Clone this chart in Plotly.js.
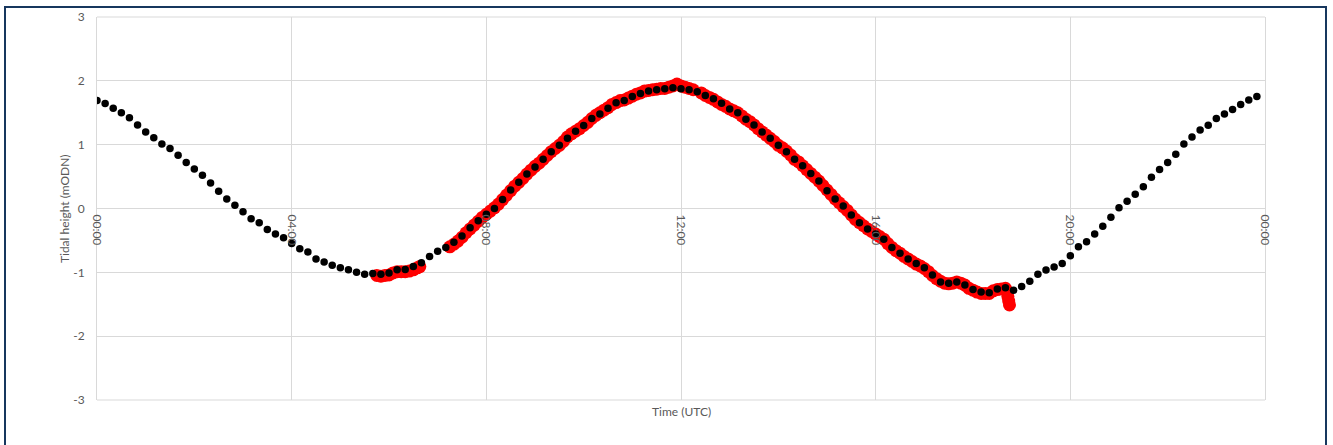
<!DOCTYPE html>
<html>
<head>
<meta charset="utf-8">
<script src="https://cdn.plot.ly/plotly-3.0.1.min.js"></script>
<style>
  html, body { margin: 0; padding: 0; background: #ffffff; overflow: hidden; }
  #chart { width: 1333px; height: 445px; position: absolute; left: 0; top: 0; }
  #frame { position: absolute; left: 4px; top: 6px; width: 1323px; height: 520px;
           box-sizing: border-box; border: 2px solid #17375e; pointer-events: none; }
</style>
</head>
<body>
<div id="chart"></div>
<div id="frame"></div>
<script>
// Predicted tide (black), one value every 10 minutes from 00:00 to 23:50
const predictedStart = "00:00";
const predictedStepMinutes = 10;
const predictedHeight = [
  1.69, 1.645, 1.57, 1.50, 1.42, 1.31,
  1.20, 1.11, 1.01, 0.94, 0.835, 0.72,
  0.62, 0.52, 0.40, 0.27, 0.15, 0.05,
  -0.05, -0.16, -0.225, -0.33, -0.40, -0.46,
  -0.55, -0.63, -0.68, -0.79, -0.84, -0.89,
  -0.93, -0.96, -1.00, -1.03, -1.02, -1.03,
  -1.01, -0.96, -0.955, -0.91, -0.85, -0.75,
  -0.67, -0.61, -0.53, -0.43, -0.30, -0.19,
  -0.09, 0.00, 0.14, 0.29, 0.41, 0.54,
  0.65, 0.77, 0.89, 0.99, 1.10, 1.21,
  1.30, 1.41, 1.48, 1.57, 1.655, 1.69,
  1.755, 1.80, 1.84, 1.86, 1.875, 1.89,
  1.875, 1.86, 1.83, 1.77, 1.72, 1.65,
  1.56, 1.50, 1.40, 1.31, 1.20, 1.10,
  0.99, 0.89, 0.77, 0.67, 0.55, 0.43,
  0.28, 0.15, 0.04, -0.10, -0.225, -0.32,
  -0.40, -0.48, -0.61, -0.70, -0.79, -0.86,
  -0.93, -1.04, -1.15, -1.17, -1.15, -1.20,
  -1.27, -1.31, -1.32, -1.26, -1.24, -1.28,
  -1.22, -1.14, -1.03, -0.965, -0.915, -0.86,
  -0.74, -0.60, -0.52, -0.40, -0.28, -0.136,
  0.01, 0.115, 0.225, 0.34, 0.49, 0.61,
  0.72, 0.85, 1.01, 1.12, 1.23, 1.305,
  1.41, 1.48, 1.55, 1.63, 1.70, 1.755
];

// Observed tide (red)
const observedTime = [
  "05:45","05:50","05:55","06:00","06:05","06:10","06:15","06:20","06:25","06:30","06:35","06:38",
  "07:15","07:20","07:25","07:30","07:35","07:40","07:45","07:50","07:55",
  "08:00","08:05","08:10","08:15","08:20","08:25","08:30","08:35","08:40","08:45","08:50","08:55",
  "09:00","09:05","09:10","09:15","09:20","09:25","09:30","09:35","09:40","09:45","09:50","09:55",
  "10:00","10:05","10:10","10:15","10:20","10:25","10:30","10:35","10:40","10:45","10:50","10:55",
  "11:00","11:05","11:10","11:15","11:20","11:25","11:30","11:35","11:40","11:45","11:50","11:55",
  "12:00","12:05","12:10","12:15",
  "12:25","12:30","12:35","12:40","12:45","12:50","12:55",
  "13:00","13:05","13:10","13:15","13:20","13:25","13:30","13:35","13:40","13:45","13:50","13:55",
  "14:00","14:05","14:10","14:15","14:20","14:25","14:30","14:35","14:40","14:45","14:50","14:55",
  "15:00","15:05","15:10","15:15","15:20","15:25","15:30","15:35","15:40","15:45","15:50","15:55",
  "16:00","16:05","16:10","16:15","16:20","16:25","16:30","16:35","16:40","16:45","16:50","16:55",
  "17:00","17:05","17:10","17:15","17:20","17:25","17:30","17:35","17:40","17:45","17:50","17:55",
  "18:00","18:05","18:10","18:15","18:20","18:25","18:30","18:35","18:40","18:42","18:43","18:44","18:45"
];
const observedHeight = [
  -1.05, -1.06, -1.05, -1.04, -1.01, -0.99, -0.99, -0.99, -0.98, -0.96, -0.93, -0.91,
  -0.60, -0.56, -0.51, -0.45, -0.38, -0.32, -0.26, -0.20, -0.14,
  -0.09, -0.04, 0.01, 0.07, 0.14, 0.21, 0.28, 0.35, 0.41, 0.47, 0.54, 0.60,
  0.66, 0.71, 0.77, 0.83, 0.89, 0.94, 0.99, 1.05, 1.12, 1.17, 1.21, 1.25,
  1.30, 1.35, 1.41, 1.46, 1.50, 1.54, 1.58, 1.63, 1.66, 1.69, 1.70, 1.73,
  1.76, 1.79, 1.81, 1.84, 1.85, 1.86, 1.87, 1.88, 1.88, 1.90, 1.92, 1.95,
  1.92, 1.90, 1.88, 1.86,
  1.81, 1.77, 1.74, 1.71, 1.67, 1.63, 1.60,
  1.56, 1.53, 1.50, 1.45, 1.40, 1.36, 1.31, 1.25, 1.20, 1.15, 1.10, 1.05,
  0.99, 0.95, 0.90, 0.84, 0.77, 0.73, 0.67, 0.61, 0.55, 0.49, 0.43, 0.36,
  0.29, 0.22, 0.15, 0.09, 0.03, -0.03, -0.10, -0.17, -0.22, -0.27, -0.32, -0.36,
  -0.40, -0.44, -0.48, -0.55, -0.61, -0.66, -0.70, -0.75, -0.79, -0.83, -0.87, -0.90,
  -0.94, -0.99, -1.05, -1.10, -1.14, -1.17, -1.18, -1.17, -1.15, -1.17, -1.20, -1.25,
  -1.28, -1.31, -1.33, -1.33, -1.33, -1.29, -1.27, -1.26, -1.25, -1.30, -1.38, -1.45, -1.51
];

const tickValues = ["00:00", "04:00", "08:00", "12:00", "16:00", "20:00", "00:00"];
const yTicks = [-3, -2, -1, 0, 1, 2, 3];
const yTickText = ["-3", "-2", "-1", "0", "1", "2", "3"];

const DAY = "2000-01-01 ";
function toDate(hhmm, nextDay) {
  return (nextDay ? "2000-01-02 " : DAY) + hhmm + ":00";
}
const predictedTime = predictedHeight.map((_, i) => {
  const [h0, m0] = predictedStart.split(":").map(Number);
  const mins = h0 * 60 + m0 + i * predictedStepMinutes;
  const hh = String(Math.floor(mins / 60)).padStart(2, "0");
  const mm = String(mins % 60).padStart(2, "0");
  return toDate(hh + ":" + mm);
});
const observedDates = observedTime.map(t => toDate(t));
const tickDates = tickValues.map((t, i) => toDate(t, i === tickValues.length - 1));

const textColor = "#595959";
const gridColor = "#d9d9d9";
const font = "Lato, 'Open Sans', sans-serif";

const traces = [
  {
    x: observedDates, y: observedHeight, type: "scatter", mode: "markers",
    marker: { color: "#ff0000", size: 13 }, hoverinfo: "skip", showlegend: false
  },
  {
    x: predictedTime, y: predictedHeight, type: "scatter", mode: "markers",
    marker: { color: "#000000", size: 7.5 }, showlegend: false
  }
];

const layout = {
  width: 1333, height: 445,
  margin: { l: 97, r: 68, t: 17, b: 45 },
  paper_bgcolor: "#ffffff", plot_bgcolor: "#ffffff",
  font: { family: font, color: textColor, size: 12 },
  showlegend: false,
  xaxis: {
    type: "date",
    range: [tickDates[0], tickDates[tickDates.length - 1]],
    tickvals: tickDates,
    ticktext: tickValues,
    tickangle: 90,
    anchor: "free", position: 0.5,
    showgrid: true, gridcolor: gridColor, gridwidth: 1,
    showline: false, zeroline: false, ticks: "",
    ticklabelstandoff: 5,
    tickfont: { family: font, size: 12, color: textColor }
  },
  yaxis: {
    range: [-3, 3],
    tickvals: yTicks,
    ticktext: yTickText,
    showgrid: true, gridcolor: gridColor, gridwidth: 1,
    zeroline: false, showline: true, linecolor: gridColor, mirror: true,
    ticks: "", ticklabelstandoff: 9,
    tickfont: { family: font, size: 12, color: textColor }
  },
  shapes: [
    { type: "line", xref: "paper", yref: "paper", x0: 0, x1: 1, y0: 0, y1: 0,
      line: { color: gridColor, width: 1 }, layer: "below" },
    { type: "line", xref: "paper", yref: "paper", x0: 0, x1: 1, y0: 1, y1: 1,
      line: { color: gridColor, width: 1 }, layer: "below" }
  ],
  annotations: [
    { text: "Tidal height (mODN)", xref: "paper", yref: "paper",
      x: -0.0278, y: 0.5, xanchor: "center", yanchor: "middle",
      textangle: -90, showarrow: false, font: { family: font, size: 12, color: textColor } },
    { text: "Time (UTC)", xref: "paper", yref: "paper",
      x: 0.5, y: -0.031, xanchor: "center", yanchor: "middle",
      showarrow: false, font: { family: font, size: 12, color: textColor } }
  ]
};

Plotly.newPlot("chart", traces, layout, { displayModeBar: false, staticPlot: true });
</script>
</body>
</html>
